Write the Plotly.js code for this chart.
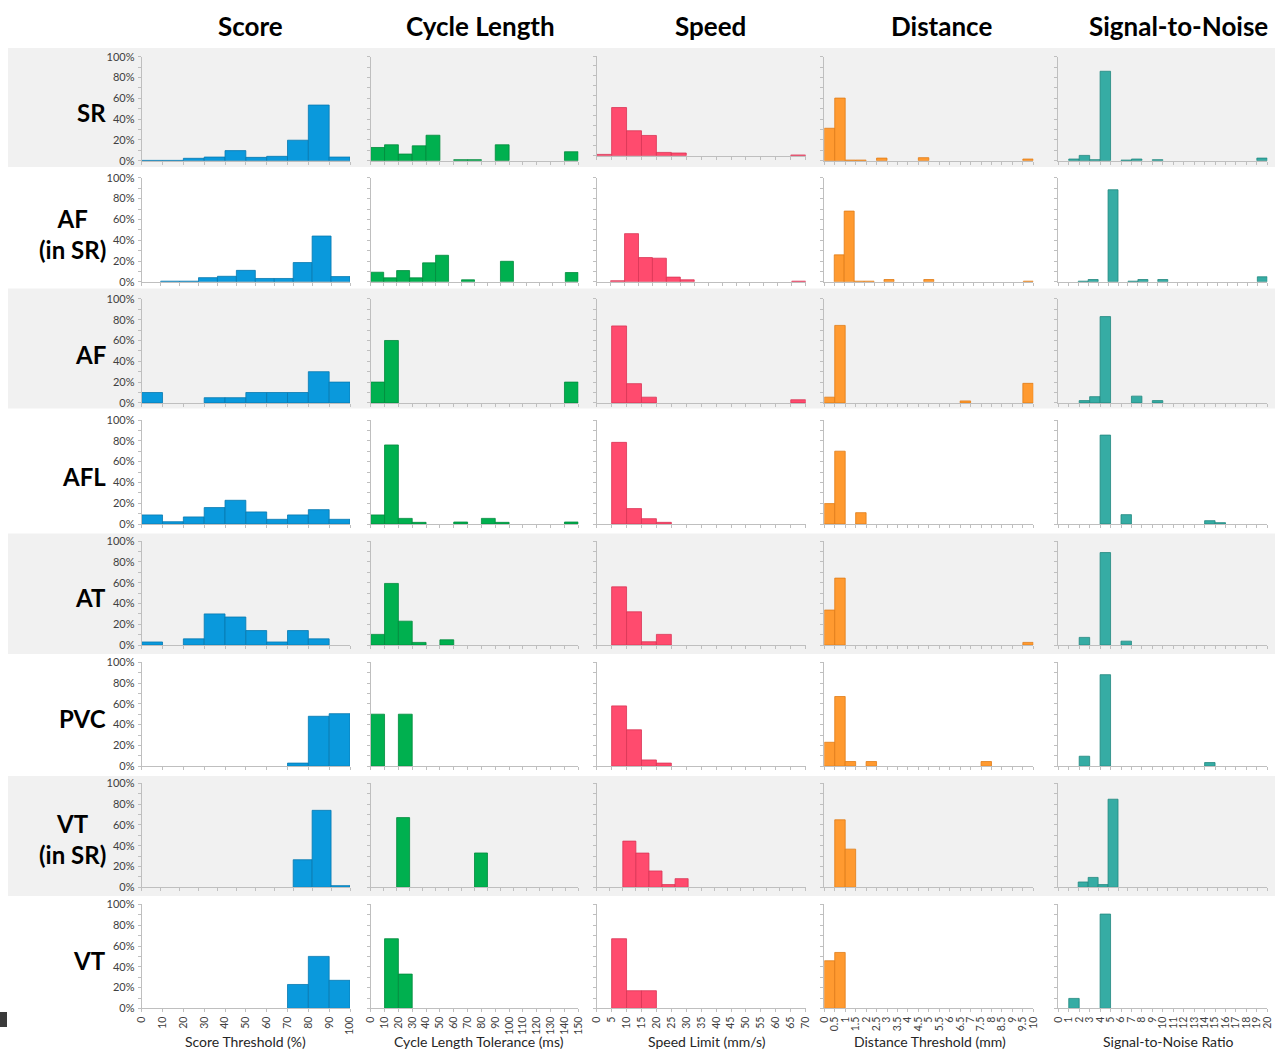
<!DOCTYPE html>
<html>
<head>
<meta charset="utf-8">
<script src="https://cdn.plot.ly/plotly-3.0.1.min.js"></script>
<style>
html,body{margin:0;padding:0;background:#fff;}
#chart{width:1275px;height:1050px;}
</style>
</head>
<body>
<div id="chart"></div>
<script>
// ---------------- DATA ----------------
const rowLabels = ['SR', 'AF<br>(in SR)', 'AF', 'AFL', 'AT', 'PVC', 'VT<br>(in SR)', 'VT'];
const columnTitles = ['Score', 'Cycle Length', 'Speed', 'Distance', 'Signal-to-Noise'];
const axisTitles = ['Score Threshold (%)', 'Cycle Length Tolerance (ms)', 'Speed Limit (mm/s)', 'Distance Threshold (mm)', 'Signal-to-Noise Ratio'];

const scoreTicks = ['0','10','20','30','40','50','60','70','80','90','100'];
const cycleTicks = ['0','10','20','30','40','50','60','70','80','90','100','110','120','130','140','150'];
const speedTicks = ['0','5','10','15','20','25','30','35','40','45','50','55','60','65','70'];
const distanceTicks = ['0','0.5','1','1.5','2','2.5','3','3.5','4','4.5','5','5.5','6','6.5','7','7.5','8','8.5','9','9.5','10'];
const snrTicks = ['0','1','2','3','4','5','6','7','8','9','10','11','12','13','14','15','16','17','18','19','20'];

// percentage of cases per bin, one list per rhythm row (SR, AF in SR, AF, AFL, AT, PVC, VT in SR, VT)
const scorePct = [
  [0.3,0.3,2.3,3.5,9.7,3.2,4.2,19.7,53.5,3.5],
  [0,0.6,0.6,4,5.3,11,3.2,3.2,18.5,44,5],
  [10,0,0,5,5,10,10,10,30,20],
  [8.7,2.2,6.8,15.8,22.8,11.6,4.5,8.7,13.8,4.5],
  [3,0,6,30,27,14,3,14,6,0],
  [0,0,0,0,0,0,0,3,48,50.5],
  [0,0,0,0,0,0,0,0,26.5,74,1.6],
  [0,0,0,0,0,0,0,23,50,27]
];
const cyclePct = [
  [12.7,15.3,6.4,14.3,24.5,0,1,1,0,15.3,0,0,0,0,8.6],
  [9.2,3.8,10.8,3.8,18.2,25.5,0,1.9,0,0,19.7,0,0,0,0,8.9],
  [20,60,0,0,0,0,0,0,0,0,0,0,0,0,20],
  [8.7,76,5.4,1.6,0,0,1.9,0,5.4,1.6,0,0,0,0,1.9],
  [10.3,59.3,23,2.6,0,5.1,0,0,0,0,0,0,0,0,0],
  [50,0,50,0,0,0,0,0,0,0,0,0,0,0,0],
  [0,0,67,0,0,0,0,0,33,0,0,0,0,0,0,0],
  [0,67,33,0,0,0,0,0,0,0,0,0,0,0,0]
];
const speedPct = [
  [1.3,48.3,25,20.3,3.3,2.7,0,0,0,0,0,0,0,0.7],
  [0,1,46.3,23.3,22.7,4.5,1.9,0,0,0,0,0,0,0,0.6],
  [0,74,18.5,5.5,0,0,0,0,0,0,0,0,0,3],
  [0,78.5,14.8,5.1,1.6,0,0,0,0,0,0,0,0,0],
  [0,56,32,3.2,10.3,0,0,0,0,0,0,0,0,0],
  [0,58,35,6,3,0,0,0,0,0,0,0,0,0],
  [0,0,44.4,32.9,15.7,2.6,8.3,0,0,0,0,0,0,0,0,0],
  [0,67,17,17,0,0,0,0,0,0,0,0,0,0]
];
const distancePct = [
  [31.2,60.2,0.6,0.6,0,2.5,0,0,0,2.9,0,0,0,0,0,0,0,0,0,1.6],
  [0,25.9,68,0.6,0.6,0,2.2,0,0,0,2.2,0,0,0,0,0,0,0,0,0,0.6],
  [5.5,74.5,0,0,0,0,0,0,0,0,0,0,0,1.9,0,0,0,0,0,18.8],
  [19.6,70,0,10.9,0,0,0,0,0,0,0,0,0,0,0,0,0,0,0,0],
  [33.7,64.4,0,0,0,0,0,0,0,0,0,0,0,0,0,0,0,0,0,2.6],
  [23,67,4.5,0,4.5,0,0,0,0,0,0,0,0,0,0,4.5,0,0,0,0],
  [0,64.9,36.7,0,0,0,0,0,0,0,0,0,0,0,0,0,0,0,0,0],
  [45.8,53.8,0,0,0,0,0,0,0,0,0,0,0,0,0,0,0,0,0,0]
];
const snrPct = [
  [0,1.6,5.1,1,86,0,0.6,1.6,0,1,0,0,0,0,0,0,0,0,0,2.5],
  [0,0,0.6,2.2,0,88.5,0,0.6,2.2,0,2.2,0,0,0,0,0,0,0,0,0,4.8],
  [0,0,2.2,6,83,0,0,6.5,0,2.2,0,0,0,0,0,0,0,0,0,0],
  [0,0,0,0,85.5,0,9,0,0,0,0,0,0,0,3.2,1.3,0,0,0,0],
  [0,0,7.4,0,89,0,3.8,0,0,0,0,0,0,0,0,0,0,0,0,0],
  [0,0,9.6,0,88,0,0,0,0,0,0,0,0,0,3.5,0,0,0,0,0],
  [0,0,5.1,9.5,2.6,84.7,0,0,0,0,0,0,0,0,0,0,0,0,0,0,0],
  [0,9.6,0,0,90.7,0,0,0,0,0,0,0,0,0,0,0,0,0,0,0]
];
const yTickVals = [0,10,20,30,40,50,60,70,80,90,100];
const yTickText = ['0%','','20%','','40%','','60%','','80%','','100%'];

// ---------------- STYLE / LAYOUT ----------------
const W = 1275, H = 1050;
const FONT = 'Lato, "Open Sans", "DejaVu Sans", sans-serif';
const columns = [scorePct, cyclePct, speedPct, distancePct, snrPct];
const tickSets = [scoreTicks, cycleTicks, speedTicks, distanceTicks, snrTicks];
const fills = ['#0a99dc', '#00b04f', '#ff4b6e', '#ff9a30', '#36aca4'];
const edges = ['#0779b0', '#008a3c', '#d93556', '#e07c18', '#22887f'];
const colX = [[141.7,350],[370.7,578.3],[596.7,805.7],[824.3,1033.3],[1058.3,1267.3]];
const colCenters = [245, 479, 707, 930, 1168];
const titleCenters = [250, 480, 710, 941, 1178];
const AXC = '#bfbfbf';

function px2x(p){ return p / W; }
function px2y(p){ return 1 - p / H; }

const data = [];
const layout = {
  width: W, height: H,
  margin: {l:0, r:0, t:0, b:0},
  showlegend: false,
  paper_bgcolor: '#ffffff',
  plot_bgcolor: 'rgba(0,0,0,0)',
  bargap: 0,
  hovermode: false,
  font: {family: FONT, color: '#404040'},
  shapes: [],
  annotations: []
};

// alternating row bands
const bands = [[48,167],[288.5,408.5],[533.5,654],[776,896]];
bands.forEach(b => {
  layout.shapes.push({type:'rect', xref:'paper', yref:'paper', layer:'below',
    x0: px2x(8), x1: 1, y0: px2y(b[1]), y1: px2y(b[0]),
    fillcolor:'#f1f1f1', line:{width:0}});
});
layout.shapes.push({type:'rect', xref:'paper', yref:'paper', layer:'above',
  x0: 0, x1: px2x(7), y0: px2y(1027), y1: px2y(1012), fillcolor:'#3a3a3a', line:{width:0}});

for (let r = 0; r < 8; r++) {
  let base = 160.7 + 121.1 * r;
  for (let c = 0; c < 5; c++) {
    let b = base, top = base - 104;
    if (r === 0 && c === 2) { b = 155.7; top = 56; }
    const idx = r * 5 + c + 1;
    const xs = idx === 1 ? '' : String(idx);
    const vals = columns[c][r];
    const n = vals.length;
    data.push({
      type: 'bar',
      x: vals.map((v, i) => i + 0.5),
      y: vals.map(v => v > 0 ? v : null),
      width: 1,
      marker: {color: fills[c], line: {color: edges[c], width: 0.8}},
      xaxis: 'x' + xs, yaxis: 'y' + xs,
      hoverinfo: 'skip'
    });
    const tv = []; for (let i = 0; i <= n; i++) tv.push(i);
    const bottom = (r === 7);
    layout['xaxis' + xs] = {
      domain: [px2x(colX[c][0]), px2x(colX[c][1])],
      range: [0, n], anchor: 'y' + xs,
      showline: true, linecolor: AXC, linewidth: 1,
      ticks: 'outside', ticklen: 3, tickcolor: AXC, tickwidth: 1,
      tickvals: tv,
      ticktext: bottom ? tickSets[c] : tv.map(() => ''),
      showticklabels: bottom,
      tickangle: -90,
      ticklabelstandoff: 0,
      tickfont: {size: 10.5, color: '#404040', family: FONT},
      showgrid: false, zeroline: false, fixedrange: true
    };
    layout['yaxis' + xs] = {
      domain: [px2y(b), px2y(top)],
      range: [0, 100], anchor: 'x' + xs,
      showline: true, linecolor: AXC, linewidth: 1,
      ticks: 'outside', ticklen: 3, tickcolor: AXC, tickwidth: 1,
      tickvals: yTickVals, ticktext: yTickText,
      showticklabels: c === 0,
      ticklabelstandoff: 1,
      tickfont: {size: 11, color: '#404040', family: FONT},
      showgrid: false, zeroline: false, fixedrange: true
    };
  }
  layout.annotations.push({
    xref:'paper', yref:'paper', x: px2x(108), y: px2y(base - 52 + 4),
    xanchor:'right', yanchor:'middle', align:'center', showarrow:false,
    text: '<b>' + rowLabels[r] + '</b>',
    font: {size: 24, color: '#000', family: FONT}
  });
}

columnTitles.forEach((t, c) => {
  layout.annotations.push({
    xref:'paper', yref:'paper', x: px2x(titleCenters[c]), y: px2y(26),
    xanchor:'center', yanchor:'middle', showarrow:false,
    text: '<b>' + t + '</b>', font: {size: 26, color: '#000', family: FONT}
  });
});
axisTitles.forEach((t, c) => {
  layout.annotations.push({
    xref:'paper', yref:'paper', x: px2x(colCenters[c]), y: px2y(1041),
    xanchor:'center', yanchor:'middle', showarrow:false,
    text: t, font: {size: 14, color: '#262626', family: FONT}
  });
});

Plotly.newPlot('chart', data, layout, {staticPlot: true, displayModeBar: false});
</script>
</body>
</html>
